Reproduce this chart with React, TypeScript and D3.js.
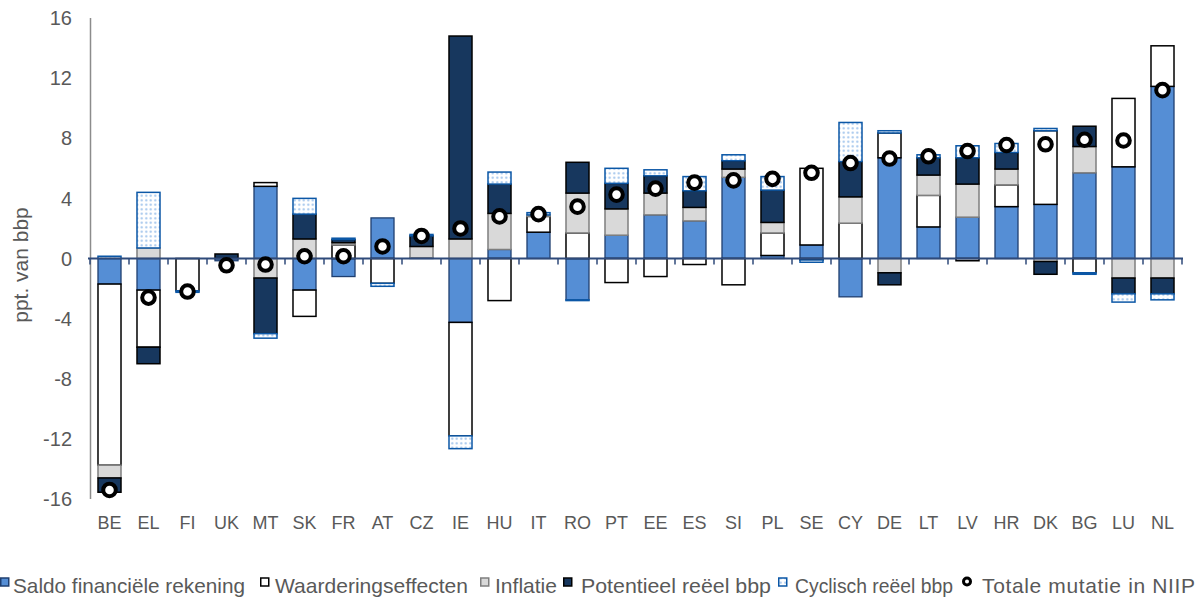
import React from 'react';
import * as d3 from 'd3';

const categories = ['BE','EL','FI','UK','MT','SK','FR','AT','CZ','IE','HU','IT','RO','PT','EE','ES','SI','PL','SE','CY','DE','LT','LV','HR','DK','BG','LU','NL'];
const saldo =      [-1.7,-2.1,0,-0.15,4.8,-2.1,-1.2,2.7,0.05,-4.25,0.6,1.75,-2.75,1.55,2.9,2.5,5.4,0.2,0.9,-2.55,6.7,2.1,2.75,3.45,3.6,5.7,6.1,11.45];
const waardering = [-12.05,-3.8,-2.15,0,0.25,-1.75,0.9,-1.65,0,-7.55,-2.8,1.05,1.7,-1.6,-1.2,-0.4,-1.75,1.5,5.1,2.35,1.65,2.1,-0.15,1.45,4.9,-0.95,4.55,2.7];
const inflatie =   [-0.85,0.7,0,0,-1.3,1.3,0.15,0,0.75,1.3,2.4,0.1,2.65,1.75,1.45,0.9,0.55,0.7,0,1.75,-0.95,1.35,2.2,1.05,-0.2,1.75,-1.3,-1.3];
const potentieel = [-0.95,-1.1,0,0.3,-3.7,1.65,0.2,0,0.7,13.5,1.95,0,2.05,1.7,1.15,1.1,0.55,2.15,-0.1,2.35,-0.8,1.15,1.75,1.1,-0.85,1.35,-1.05,-1.05];
const cyclisch =   [0.15,3.7,-0.1,0,-0.3,1.05,0.1,-0.2,0.1,-0.85,0.8,0.15,-0.05,1.0,0.4,0.95,0.4,0.9,-0.15,2.6,0.15,0.2,0.8,0.6,0.15,-0.1,-0.55,-0.4];
const totaal =     [-15.4,-2.6,-2.2,-0.45,-0.4,0.15,0.15,0.8,1.5,2.0,2.8,2.95,3.45,4.25,4.65,5.05,5.2,5.3,5.7,6.35,6.65,6.8,7.15,7.55,7.6,7.9,7.85,11.2];

const seriesKeys = ['saldo','waardering','inflatie','potentieel','cyclisch'];
const seriesNames = ['Saldo financiële rekening','Waarderingseffecten','Inflatie','Potentieel reëel bbp','Cyclisch reëel bbp'];
const totalName = 'Totale mutatie in NIIP';
const yTicks = [-16,-12,-8,-4,0,4,8,12,16];
const yTitle = 'ppt. van bbp';

const styles: Record<string, {fill: string; stroke: string; sw: number}> = {
  saldo: { fill: '#558ED5', stroke: '#1F3F70', sw: 1.3 },
  waardering: { fill: '#FFFFFF', stroke: '#000000', sw: 1.5 },
  inflatie: { fill: '#D9D9D9', stroke: '#7F7F7F', sw: 1.5 },
  potentieel: { fill: '#17375E', stroke: '#000000', sw: 1.5 },
  cyclisch: { fill: 'url(#dots)', stroke: '#0B57A6', sw: 1.5 },
};

const FONT = '"Liberation Sans", Arial, sans-serif';
const TXT = '#595959';

export default function App() {
  const W = 1200, H = 598;
  const x = d3.scaleBand<string>().domain(categories).range([90, 1182]).paddingInner(0.41).paddingOuter(0.205);
  const y = d3.scaleLinear().domain([-16, 16]).range([499, 18]);
  const rows = categories.map((c, i) => ({
    cat: c, saldo: saldo[i], waardering: waardering[i], inflatie: inflatie[i], potentieel: potentieel[i], cyclisch: cyclisch[i],
  }));
  const stacked = d3.stack<any>().keys(seriesKeys).offset(d3.stackOffsetDiverging)(rows);
  const y0 = y(0);
  const step = x.step();
  const [r0, r1] = x.range();
  const boundaries = d3.range(categories.length + 1).map(i => r0 + i * step);

  const legendMarkerX = [0, 260, 480, 563, 778];
  const legendTextX = [13, 275, 495, 581, 795];
  const legendTextW = [232, 193, 62, 190, 158];
  const legendY = 593;

  return (
    <svg width={W} height={H} style={{ position: 'absolute', left: 0, top: 0, display: 'block', background: '#fff' }}>
      <defs>
        <pattern id="dots" width="4.5" height="4.5" patternUnits="userSpaceOnUse">
          <rect width="4.5" height="4.5" fill="#FFFFFF" />
          <circle cx="2.25" cy="2.25" r="1.1" fill="#9EC3EC" />
        </pattern>
      </defs>
      <line x1={r0 + 0.5} x2={r0 + 0.5} y1={y(16)} y2={y(-16)} stroke="#8C8C8C" strokeWidth={1.5} />
      {yTicks.map(t => (
        <text key={t} x={72} y={y(t)} dy="0.36em" textAnchor="end" fontFamily={FONT} fontSize={20} fill={TXT}>{t}</text>
      ))}
      <text transform={`translate(28,265) rotate(-90)`} textAnchor="middle" fontFamily={FONT} fontSize={21} fill={TXT}>{yTitle}</text>
      {stacked.map(s => (
        <g key={s.key}>
          {s.map((d, i) => {
            const v = d[1] - d[0];
            if (Math.abs(v) < 1e-9) return null;
            const st = styles[s.key];
            const top = y(Math.max(d[0], d[1]));
            const bot = y(Math.min(d[0], d[1]));
            return (
              <rect key={i} x={x(categories[i])} y={top} width={x.bandwidth()} height={bot - top}
                fill={st.fill} stroke={st.stroke} strokeWidth={st.sw} />
            );
          })}
        </g>
      ))}
      <line x1={r0 - 2} x2={r1 + 1} y1={y0} y2={y0} stroke="#2F4A7A" strokeWidth={2} />
      {boundaries.map((b, i) => (
        <line key={i} x1={b} x2={b} y1={y0} y2={y0 + 6} stroke="#2F4A7A" strokeWidth={1.5} />
      ))}
      {totaal.map((t, i) => (
        <circle key={i} cx={(x(categories[i]) as number) + x.bandwidth() / 2} cy={y(t)} r={6.3} fill="#FFFFFF" stroke="#000000" strokeWidth={4} />
      ))}
      {categories.map(c => (
        <text key={c} x={(x(c) as number) + x.bandwidth() / 2} y={529} textAnchor="middle" fontFamily={FONT} fontSize={18} fill={TXT}>{c}</text>
      ))}
      {seriesKeys.map((k, i) => {
        const st = styles[k];
        return (
          <g key={k}>
            <rect x={legendMarkerX[i] + 0.75} y={578} width={8} height={8} fill={st.fill} stroke={st.stroke} strokeWidth={1.5} />
            <text x={legendTextX[i]} y={legendY} fontFamily={FONT} fontSize={21} fill={TXT}
              textLength={legendTextW[i]} lengthAdjust="spacingAndGlyphs">{seriesNames[i]}</text>
          </g>
        );
      })}
      <circle cx={967} cy={581.5} r={3.5} fill="#FFFFFF" stroke="#000000" strokeWidth={3} />
      <text x={982} y={legendY} fontFamily={FONT} fontSize={21} fill={TXT} textLength={213} lengthAdjust="spacing">{totalName}</text>
    </svg>
  );
}
